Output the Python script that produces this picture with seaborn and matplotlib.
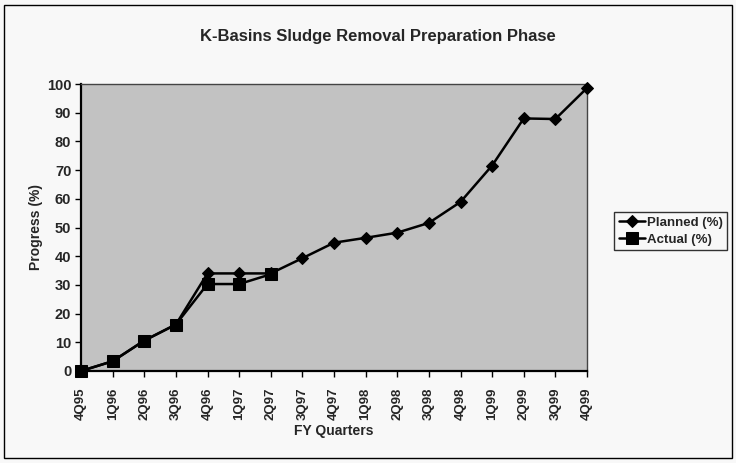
import matplotlib
matplotlib.use("Agg")
import matplotlib.pyplot as plt
import seaborn as sns
import pandas as pd
from matplotlib.patches import Rectangle

quarters = ["4Q95", "1Q96", "2Q96", "3Q96", "4Q96", "1Q97", "2Q97", "3Q97", "4Q97",
            "1Q98", "2Q98", "3Q98", "4Q98", "1Q99", "2Q99", "3Q99", "4Q99"]
planned = [0, 3.4, 10.6, 16.2, 34, 34, 34, 39.3, 44.7, 46.4, 48.2, 51.6, 58.9, 71.6, 88, 87.8, 98.6]
actual = [0, 3.4, 10.6, 16.2, 30.3, 30.3, 33.7]
y_ticks = [0, 10, 20, 30, 40, 50, 60, 70, 80, 90, 100]

sns.set_theme(style="white")
plt.rcParams['font.family'] = ['Liberation Sans', 'DejaVu Sans']

df_p = pd.DataFrame({"pos": range(len(planned)), "value": planned})
df_a = pd.DataFrame({"pos": range(len(actual)), "value": actual})

fig = plt.figure(figsize=(7.36, 4.63), dpi=100)
fig.patch.set_facecolor("#f8f8f8")
ax = fig.add_axes([81/736, 1-371/463, (587-81)/736, (371-84)/463])
ax.set_facecolor("#c2c2c2")

sns.lineplot(data=df_p, x="pos", y="value", ax=ax, color="black", lw=1.8,
             marker="D", markersize=6.5, markeredgecolor="black", label="Planned (%)",
             clip_on=False, zorder=3)
sns.lineplot(data=df_a, x="pos", y="value", ax=ax, color="black", lw=1.8,
             marker="s", markersize=8, markeredgecolor="black", label="Actual (%)",
             clip_on=False, zorder=4)

ax.set_xlim(0, len(quarters) - 1)
ax.set_ylim(0, 100)
ax.set_xticks(range(len(quarters)))
ax.set_xticklabels(quarters, rotation=90, fontsize=9.5)
ax.set_yticks(y_ticks)
ax.set_yticklabels([str(v) for v in y_ticks], fontsize=10.5, fontweight="bold")
for lab in ax.get_xticklabels():
    lab.set_fontweight("bold")
ax.tick_params(axis="both", direction="out", length=4, width=1, color="black",
               bottom=True, left=True, pad=3)
ax.tick_params(axis="x", pad=8)
for s in ["left", "bottom"]:
    ax.spines[s].set_color("black")
    ax.spines[s].set_linewidth(1.6)
for s in ["top", "right"]:
    ax.spines[s].set_color("#444444")
    ax.spines[s].set_linewidth(1.0)

ax.set_xlabel("FY Quarters", fontsize=10, fontweight="bold", labelpad=3)
ax.set_ylabel("Progress (%)", fontsize=10, fontweight="bold", labelpad=3)

fig.text(0.513, 1-37/463, "K-Basins Sludge Removal Preparation Phase",
         ha="center", va="center", fontsize=12, fontweight="bold")

leg = ax.legend(loc="center left", bbox_to_anchor=(614/736, 1-231/463),
                bbox_transform=fig.transFigure, frameon=True, fancybox=False,
                fontsize=9.5, handlelength=2.0, handletextpad=0.15, borderpad=0.35,
                labelspacing=0.35, borderaxespad=0)
leg.get_frame().set_edgecolor("black")
leg.get_frame().set_linewidth(1.0)
leg.get_frame().set_facecolor("#f8f8f8")
for t in leg.get_texts():
    t.set_fontweight("bold")

fig.add_artist(Rectangle((4/736, 1-458/463), (732-4)/736, (458-5)/463,
                         transform=fig.transFigure, fill=False,
                         edgecolor="black", linewidth=1.0))

fig.savefig("out.png", dpi=100, facecolor=fig.get_facecolor())
